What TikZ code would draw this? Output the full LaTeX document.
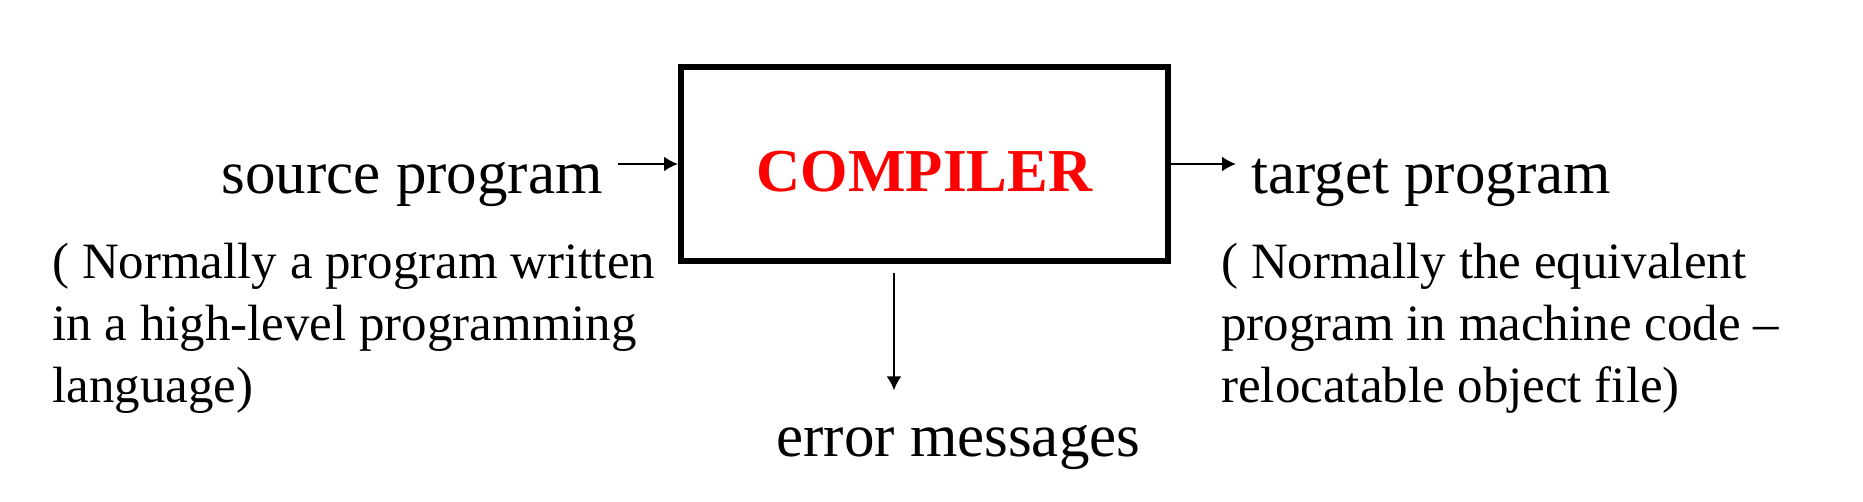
\documentclass[tikz,border=0pt]{standalone}
\usepackage{fontspec}
\setmainfont{Liberation Serif}
\usetikzlibrary{arrows.meta}
\begin{document}
\begin{tikzpicture}[x=0.02cm, y=0.02cm,
    big text/.style={font=\fontsize{34.7}{41}\selectfont, inner sep=0pt},
    note text/.style={font=\fontsize{29}{35.3}\selectfont, align=left, inner sep=0pt},
    arr/.style={-{Latex[length=0.28cm,width=0.3cm]}, line width=0.045cm}]
    \useasboundingbox (0,0) rectangle (1863,502);

    % the compiler box
    \node[draw, line width=0.12cm, minimum width=9.74cm, minimum height=3.88cm, inner sep=0pt] (box) at (924.5,338) {};
    \node[big text, font=\fontsize{34.7}{41}\selectfont\bfseries, text=red] (comp) at ([yshift=-0.16cm]box.center) {COMPILER};

    \node[big text, inner xsep=0.3cm, anchor=base east] (src) at (618,308) {source program};
    \node[big text, inner xsep=0.3cm, anchor=base west] (tgt) at (1236,308) {target program};
    \node[big text, inner ysep=0.7cm, anchor=base west] (err) at (776,45) {error messages};
    \coordinate (errout) at (894,229);

    \draw[arr] (src.east |- box.west) -- (box.west);
    \draw[arr] (box.east) -- (tgt.west |- box.east);
    \draw[arr] (errout) -- (errout |- err.north);

    % base of a multi-line node is its last line
    \node[note text, anchor=base west] (srcnote) at (52,99) {( Normally a program written\\in a high-level programming\\language)};
    \node[note text, anchor=base west] (tgtnote) at (1221,99) {( Normally the equivalent\\program in machine code –\\relocatable object file)};
\end{tikzpicture}
\end{document}
